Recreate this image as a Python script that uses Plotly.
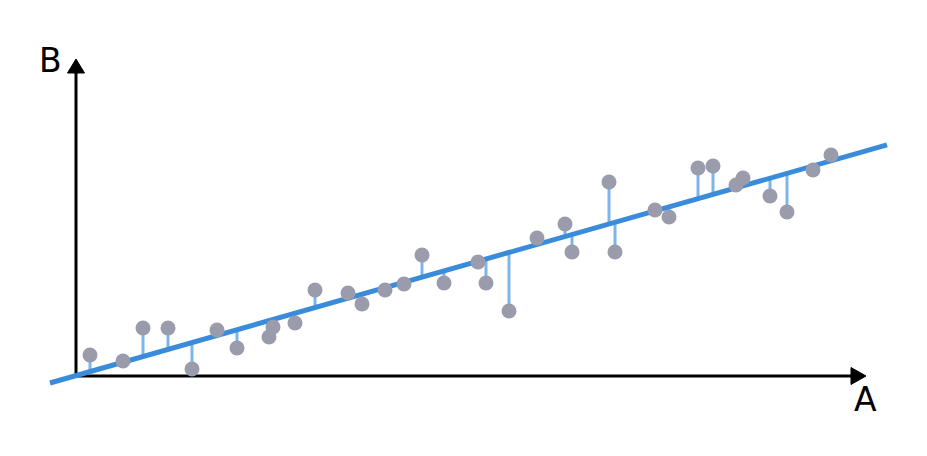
import plotly.graph_objects as go

A = [1.4, 4.7, 6.7, 9.2, 11.6, 14.1, 16.1, 19.3, 19.7, 21.9, 23.9, 27.2, 28.6, 30.9,
     32.8, 34.6, 36.8, 40.2, 41.0, 43.3, 46.1, 48.9, 49.6, 53.3, 53.9, 57.9, 59.3,
     62.2, 63.7, 66.0, 66.7, 69.4, 71.1, 73.7, 75.5]
B = [2.1, 1.5, 4.8, 4.8, 0.7, 4.6, 2.8, 3.9, 4.9, 5.3, 8.6, 8.3, 7.2, 8.6,
     9.2, 12.1, 9.3, 11.4, 9.3, 6.5, 13.8, 15.2, 12.4, 19.4, 12.4, 16.6, 15.9,
     20.8, 21.0, 19.1, 19.8, 18.0, 16.4, 20.6, 22.1]

# Regression line
intercept = 0.04
slope = 0.2844
line_x = [-2.6, 81.1]

def fit(x):
    return intercept + slope * x

line_y = [fit(x) for x in line_x]

res_x, res_y = [], []
for a, b in zip(A, B):
    res_x += [a, a, None]
    res_y += [fit(a), b, None]

fig = go.Figure()
fig.add_trace(go.Scatter(x=res_x, y=res_y, mode="lines",
                         line=dict(color="#7cb5e8", width=3), hoverinfo="skip"))
fig.add_trace(go.Scatter(x=line_x, y=line_y, mode="lines",
                         line=dict(color="#3a8cdb", width=5), hoverinfo="skip"))
fig.add_trace(go.Scatter(x=A, y=B, mode="markers",
                         marker=dict(color="#9a9bab", size=15, line=dict(width=0))))

# Axis arrows
x_end, x_tip = 77.5, 79.0
y_end, y_tip = 30.3, 31.7
hw = 0.85
shapes = [
    dict(type="line", x0=0, y0=0, x1=x_end, y1=0, line=dict(color="black", width=3), layer="below"),
    dict(type="line", x0=0, y0=0, x1=0, y1=y_end, line=dict(color="black", width=3), layer="below"),
    dict(type="path", path=f"M {x_end} {-hw} L {x_tip} 0 L {x_end} {hw} Z",
         fillcolor="black", line=dict(color="black", width=1), layer="below"),
    dict(type="path", path=f"M {-hw} {y_end} L 0 {y_tip} L {hw} {y_end} Z",
         fillcolor="black", line=dict(color="black", width=1), layer="below"),
]

annotations = [
    dict(x=-2.6, y=31.6, text="B", showarrow=False, xanchor="center", yanchor="middle",
         font=dict(family="DejaVu Sans", size=33, color="black")),
    dict(x=78.9, y=-2.35, text="A", showarrow=False, xanchor="center", yanchor="middle",
         font=dict(family="DejaVu Sans", size=33, color="black")),
]

fig.update_layout(
    width=927, height=456,
    margin=dict(l=0, r=0, t=0, b=0),
    paper_bgcolor="white", plot_bgcolor="white",
    showlegend=False,
    shapes=shapes, annotations=annotations,
    xaxis=dict(range=[-7.6, 85.1], visible=False, fixedrange=True),
    yaxis=dict(range=[-8.0, 37.6], visible=False, fixedrange=True),
)

fig.write_html("out.html", config={"displayModeBar": False},
               post_script="document.body.style.margin='0';document.body.style.overflow='hidden';")
